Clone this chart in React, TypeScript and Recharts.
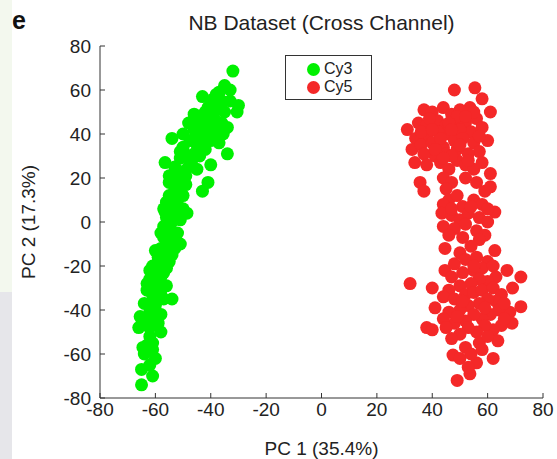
import React from "react";
import { ScatterChart, Scatter, XAxis, YAxis } from "recharts";

const TICKS = [-80, -60, -40, -20, 0, 20, 40, 60, 80];
const TITLE = "NB Dataset (Cross Channel)";
const X_LABEL = "PC 1 (35.4%)";
const Y_LABEL = "PC 2 (17.3%)";
const SERIES_NAMES = ["Cy3", "Cy5"];

// Cy3 points [PC1, PC2]
const cy3Points = [
  [-65, -74], [-61, -70], [-65, -67], [-62, -65], [-60, -62], [-64, -60], [-64.5, -57], [-61, -55],
  [-58, -50], [-62, -52], [-66, -48], [-63, -47], [-60, -45], [-65.5, -43], [-62, -41], [-58, -42],
  [-64, -37], [-60, -38], [-54, -35], [-57, -35], [-61, -33], [-63, -31], [-59, -30], [-56, -29],
  [-62, -26], [-58, -25], [-60, -22], [-61, -20], [-57, -20], [-55, -18], [-59, -16], [-56, -14],
  [-58, -12], [-53, -12], [-51, -10], [-55, -9], [-57, -7], [-52, -5], [-55, -4], [-57, -2],
  [-54, 0], [-56, 2], [-52, 2], [-53, 4], [-56.5, 4.5], [-48.6, 4], [-50, 6], [-54, 7],
  [-56, 9], [-52, 10], [-55, 12], [-50, 12], [-53, 14], [-51, 16], [-55, 18], [-49, 17],
  [-55, 21], [-52, 21], [-50, 23], [-43, 14], [-41, 18], [-56.5, 27], [-53, 25], [-51, 29],
  [-47, 27], [-45, 24], [-40, 26], [-48, 30], [-44, 30], [-42, 33], [-47.5, 37], [-45, 35],
  [-54, 38], [-50, 34], [-40, 37], [-37, 36], [-34, 31], [-43, 40], [-35.5, 40], [-38, 42],
  [-48, 45], [-46, 49], [-44, 44], [-41, 46], [-39, 48], [-36, 45], [-34, 43], [-42, 50],
  [-38, 52], [-35, 50], [-30.5, 50], [-33, 55], [-36, 55], [-39, 56], [-43, 57], [-35, 62],
  [-37, 59], [-32, 68.6], [-33, 60], [-30, 53], [-40, 53], [-45, 40], [-50, 40], [-46, 42],
  [-63, -56], [-61, -58], [-62, -48], [-59, -46], [-64, -44], [-61, -36], [-58, -33], [-63, -28],
  [-60, -27], [-57, -23], [-62, -22], [-59, -18], [-56, -21], [-57, -15], [-54, -15], [-60, -13],
  [-56, -10], [-58, -5], [-53, -7], [-55, -1], [-51, 1], [-57, 6], [-53, 17], [-52, 19],
  [-49, 21], [-48, 25], [-46, 31], [-51, 32], [-43, 36], [-39, 39], [-37, 44], [-40, 43],
  [-44, 47], [-41, 52], [-38, 58],
];

// Cy5 points [PC1, PC2]
const cy5Points = [
  [48, 60], [55.4, 61], [58, 56], [61, 50], [53.6, 52], [37, 51], [40, 50], [44, 52],
  [47, 49], [50, 51], [31, 42], [35, 45], [38, 44], [42, 46], [45, 44], [49, 46],
  [52, 45], [56, 47], [58, 43], [54, 41], [50, 42], [46, 40], [42, 41], [38, 39],
  [34, 38], [32.7, 33], [36, 35], [40, 36], [44, 34], [48, 37], [51, 38], [55, 36],
  [60, 37], [57, 32], [53, 31], [49, 33], [45, 31], [41, 30], [37, 31], [33.7, 27],
  [38, 26], [43, 27], [46, 24], [49, 28], [52, 26], [55, 24], [58, 27], [61, 22],
  [35.6, 18], [37, 14], [44, 20], [47, 18], [45, 15], [52, 20], [56, 18], [59, 14],
  [61, 16], [49, 48], [46, 45], [43, 38], [47, 42], [55, 50], [52, 48], [57, 39],
  [39, 47], [36, 41], [41, 33], [50, 35], [53, 28], [47, 30], [44, 29], [40, 42],
  [46, 10], [49, 12], [44, 8], [51, 7], [55, 10], [58, 8], [62.6, 4.5], [43.5, 4],
  [47, 3], [50, 1], [53, 4], [57, 2], [60, 0], [44, -2], [48, -3], [52, -1],
  [56, -4], [59, -6], [51, -7], [57, -8], [62.6, -13], [44.6, -12], [50, -14], [54, -11],
  [47, 6], [54, 7], [46, -6], [60, 6],
  [44.6, -22], [48, -19], [52, -17], [56, -16], [60, -18], [58, -21], [55, -22], [51, -23],
  [47, -25], [32, -28], [40, -30], [67, -22], [72, -25], [69, -30], [63, -25], [60, -27],
  [57, -26], [54, -28], [50, -29], [46, -31], [44, -34], [48, -35], [52, -33], [55, -32],
  [58, -31], [62, -30], [65, -33], [63, -36], [60, -35], [57, -37], [53, -38], [50, -40],
  [46, -41], [41, -39], [72, -38.5], [68, -41], [64, -40], [61, -42], [58, -44], [55, -42],
  [52, -45], [48, -46], [44, -44], [38, -48], [40, -49], [68.8, -46], [65, -47], [62, -49],
  [59, -47], [56, -50], [53, -48], [50, -51], [47, -53], [63.7, -54], [57, -55], [52, -57],
  [47.5, -60.5], [62, -62], [56, -64], [53.6, -69], [49, -72], [54, -60], [59, -39], [66, -37],
  [51, -36], [55, -20], [62, -20], [49, -43], [45, -48], [60, -52], [58, -58], [66, -44],
  [50, -62], [53, -66],
];

const GREEN = "#00F000";
const RED = "#F42828";
const COLORS = [GREEN, RED];
const AXIS = "#333";
const FONT = "'Liberation Sans', Arial, sans-serif";

const toRows = (pts) => pts.map(([x, y]) => ({ x, y }));

const Dot = (fill) => (props) => <circle cx={props.cx} cy={props.cy} r={6.5} fill={fill} />;

// ticks point inward, MATLAB style
const BottomTick = ({ x, y, payload }) => (
  <g>
    <line x1={x} y1={y - 5} x2={x} y2={y - 10} stroke={AXIS} />
    <text x={x} y={y} dy="0.71em" textAnchor="middle" fontSize={19} fill="#222" fontFamily={FONT}>
      {payload.value}
    </text>
  </g>
);

const LeftTick = ({ x, y, payload }) => (
  <g>
    <line x1={x + 9} y1={y} x2={x + 14} y2={y} stroke={AXIS} />
    <text x={x} y={y} dy="0.36em" textAnchor="end" fontSize={19} fill="#222" fontFamily={FONT}>
      {payload.value}
    </text>
  </g>
);

const TopTick = ({ x, y }) => <line x1={x} y1={y} x2={x} y2={y + 5} stroke={AXIS} />;
const RightTick = ({ x, y }) => <line x1={x} y1={y} x2={x - 5} y2={y} stroke={AXIS} />;

// legend box drawn on top of the plot
const LegendBox = () => (
  <div
    style={{
      position: "absolute",
      left: 285,
      top: 55,
      width: 87,
      height: 45,
      boxSizing: "border-box",
      border: `1.5px solid ${AXIS}`,
      background: "#fff",
      padding: "4px 0 0 21px",
      fontFamily: FONT,
      fontSize: 16,
      color: "#222",
      lineHeight: "18px",
    }}
  >
    {SERIES_NAMES.map((name, i) => (
      <div key={name} style={{ display: "flex", alignItems: "center" }}>
        <span
          style={{
            width: 13,
            height: 13,
            borderRadius: "50%",
            background: COLORS[i],
            display: "inline-block",
            marginRight: 4,
          }}
        />
        {name}
      </div>
    ))}
  </div>
);

export default function App() {
  return (
    <div style={{ position: "absolute", left: 0, top: 0, width: 557, height: 459, background: "#fff" }}>
      <div style={{ position: "absolute", left: 0, top: 0, width: 12, height: 292, background: "#f3f8ee" }} />
      <div style={{ position: "absolute", left: 0, top: 292, width: 12, height: 167, background: "#e6e6ea" }} />
      <div
        style={{
          position: "absolute",
          left: 12,
          top: 6,
          fontFamily: FONT,
          fontWeight: "bold",
          fontSize: 25,
          color: "#111",
        }}
      >
        e
      </div>
      <div
        style={{
          position: "absolute",
          left: 100,
          width: 443,
          top: 11,
          textAlign: "center",
          fontFamily: FONT,
          fontSize: 21,
          color: "#222",
        }}
      >
        {TITLE}
      </div>
      <ScatterChart
        width={557}
        height={459}
        margin={{ top: 46, right: 14, bottom: 0, left: 0 }}
        style={{ position: "absolute", left: 0, top: 0 }}
      >
        <XAxis
          xAxisId="b"
          dataKey="x"
          type="number"
          domain={[-80, 80]}
          ticks={TICKS}
          interval={0}
          height={61}
          tickSize={0}
          tickMargin={5}
          tickLine={false}
          axisLine={{ stroke: AXIS }}
          tick={BottomTick}
          label={{ value: X_LABEL, position: "insideBottom", offset: 4, fontSize: 19, fill: "#222", fontFamily: FONT }}
        />
        <XAxis
          xAxisId="t"
          orientation="top"
          type="number"
          domain={[-80, 80]}
          ticks={TICKS}
          interval={0}
          height={0}
          tickSize={0}
          tickMargin={0}
          tickLine={false}
          axisLine={{ stroke: AXIS }}
          tick={TopTick}
        />
        <YAxis
          yAxisId="l"
          dataKey="y"
          type="number"
          domain={[-80, 80]}
          ticks={TICKS}
          interval={0}
          width={100}
          tickSize={0}
          tickMargin={9}
          tickLine={false}
          axisLine={{ stroke: AXIS }}
          tick={LeftTick}
          label={{
            value: Y_LABEL,
            angle: -90,
            position: "insideLeft",
            offset: 28,
            style: { textAnchor: "middle" },
            fontSize: 19,
            fill: "#222",
            fontFamily: FONT,
          }}
        />
        <YAxis
          yAxisId="r"
          orientation="right"
          type="number"
          domain={[-80, 80]}
          ticks={TICKS}
          interval={0}
          width={0}
          tickSize={0}
          tickMargin={0}
          tickLine={false}
          axisLine={{ stroke: AXIS }}
          tick={RightTick}
        />
        <Scatter
          name={SERIES_NAMES[0]}
          xAxisId="b"
          yAxisId="l"
          data={toRows(cy3Points)}
          fill={GREEN}
          shape={Dot(GREEN)}
          isAnimationActive={false}
        />
        <Scatter
          name={SERIES_NAMES[1]}
          xAxisId="b"
          yAxisId="l"
          data={toRows(cy5Points)}
          fill={RED}
          shape={Dot(RED)}
          isAnimationActive={false}
        />
      </ScatterChart>
      <LegendBox />
    </div>
  );
}
